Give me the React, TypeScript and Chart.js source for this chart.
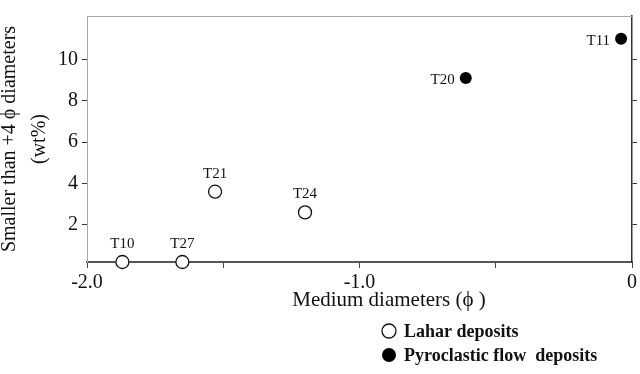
import React, { useEffect, useRef } from "react";
import { Chart, registerables } from "chart.js";

Chart.register(...registerables);

// Sample sites
const laharLabels = ["T10", "T27", "T21", "T24"];
const laharMedian = [-1.87, -1.65, -1.53, -1.2];
const laharFines = [0.2, 0.2, 3.6, 2.6];

const flowLabels = ["T20", "T11"];
const flowMedian = [-0.61, -0.04];
const flowFines = [9.1, 11.0];

const yTickValues = [2, 4, 6, 8, 10];
const xLabelMap: Record<string, string> = { "-2": "-2.0", "-1": "-1.0", "0": "0" };

const legendItems = ["Lahar deposits", "Pyroclastic flow  deposits"];
const xTitle = "Medium diameters (\u03D5 )";
const yTitle = ["Smaller than +4 \u03D5 diameters", "(wt%)"];

const SERIF = "'Liberation Serif', 'Times New Roman', serif";

const annotate = {
  id: "annotate",
  afterDatasetsDraw(chart: any) {
    const ctx = chart.ctx as CanvasRenderingContext2D;
    const area = chart.chartArea;
    ctx.save();
    // top frame line
    ctx.strokeStyle = "#a8a8a8";
    ctx.lineWidth = 1;
    ctx.beginPath();
    ctx.moveTo(area.left, area.top + 0.5);
    ctx.lineTo(area.right, area.top + 0.5);
    ctx.stroke();

    // sample labels
    ctx.fillStyle = "#111";
    ctx.font = `15px ${SERIF}`;
    ctx.textBaseline = "middle";
    const lahar = chart.getDatasetMeta(0).data;
    lahar.forEach((pt: any, i: number) => {
      ctx.textAlign = "center";
      ctx.fillText(laharLabels[i], pt.x, pt.y - 18);
    });
    const flow = chart.getDatasetMeta(1).data;
    flow.forEach((pt: any, i: number) => {
      ctx.textAlign = "right";
      ctx.fillText(flowLabels[i], pt.x - 11, pt.y + 2);
    });

    // x axis title
    ctx.font = `21px ${SERIF}`;
    ctx.textAlign = "center";
    ctx.fillText(xTitle, 389, 300);

    // legend
    const lx = 389;
    const ys = [331, 355];
    ys.forEach((y, i) => {
      ctx.beginPath();
      ctx.arc(lx, y, 7, 0, Math.PI * 2);
      if (i === 0) {
        ctx.fillStyle = "#fff";
        ctx.fill();
        ctx.strokeStyle = "#111";
        ctx.lineWidth = 1.3;
        ctx.stroke();
      } else {
        ctx.fillStyle = "#000";
        ctx.fill();
      }
      ctx.fillStyle = "#111";
      ctx.font = `bold 18px ${SERIF}`;
      ctx.textAlign = "left";
      ctx.fillText(legendItems[i], 404, y + 1);
    });
    ctx.restore();
  },
};

export default function App() {
  const canvasRef = useRef<HTMLCanvasElement | null>(null);

  useEffect(() => {
    document.body.style.margin = "0";
    const canvas = canvasRef.current;
    if (!canvas) return;
    const chart = new Chart(canvas, {
      type: "scatter",
      data: {
        datasets: [
          {
            label: "Lahar deposits",
            data: laharMedian.map((x, i) => ({ x, y: laharFines[i] })),
            pointRadius: 6.5,
            pointBackgroundColor: "#fff",
            pointBorderColor: "#111",
            pointBorderWidth: 1.3,
            clip: false as any,
            yAxisID: "y",
          },
          {
            label: "Pyroclastic flow deposits",
            data: flowMedian.map((x, i) => ({ x, y: flowFines[i] })),
            pointRadius: 6,
            pointBackgroundColor: "#000",
            pointBorderColor: "#000",
            pointBorderWidth: 0,
            clip: false as any,
            yAxisID: "y",
          },
        ],
      },
      options: {
        animation: false,
        responsive: true,
        maintainAspectRatio: false,
        layout: { padding: { top: 7, bottom: 62, left: 0, right: 0 } },
        plugins: { legend: { display: false }, tooltip: { enabled: false } },
        events: [],
        scales: {
          x: {
            type: "linear",
            position: "bottom",
            min: -2,
            max: 0,
            afterFit: (s: any) => {
              s.height = 50;
            },
            ticks: {
              stepSize: 0.5,
              autoSkip: false,
              maxRotation: 0,
              padding: 3,
              color: "#111",
              font: { family: SERIF, size: 20 },
              callback: (v: any) => xLabelMap[String(Math.round(Number(v) * 10) / 10)] ?? "",
            },
            grid: { drawOnChartArea: false, drawTicks: true, tickLength: 6, color: "#444", lineWidth: 1 },
            border: { display: true, color: "#555", width: 2 },
          },
          y: {
            type: "linear",
            position: "left",
            min: 0.2,
            max: 12.1,
            afterBuildTicks: (s: any) => {
              s.ticks = yTickValues.map((value) => ({ value }));
            },
            afterFit: (s: any) => {
              s.width = 87;
            },
            ticks: {
              padding: 4,
              color: "#111",
              font: { family: SERIF, size: 20 },
            },
            grid: { drawOnChartArea: false, drawTicks: true, tickLength: 5, color: "#333", lineWidth: 1 },
            border: { display: true, color: "#a8a8a8", width: 1 },
            title: {
              display: true,
              text: yTitle,
              color: "#111",
              font: { family: SERIF, size: 20, lineHeight: 1.5 },
              padding: { top: -5, bottom: 0 },
            },
          },
          y2: {
            type: "linear",
            position: "right",
            min: 0.2,
            max: 12.1,
            afterBuildTicks: (s: any) => {
              s.ticks = yTickValues.map((value) => ({ value }));
            },
            afterFit: (s: any) => {
              s.width = 5;
            },
            ticks: { display: false },
            grid: { drawOnChartArea: false, drawTicks: true, tickLength: 5, color: "#333", lineWidth: 1 },
            border: { display: true, color: "#333", width: 1.5 },
          },
        },
      },
      plugins: [annotate],
    } as any);
    return () => chart.destroy();
  }, []);

  return (
    <div style={{ position: "relative", width: 640, height: 374, background: "#fff" }}>
      <canvas ref={canvasRef} />
    </div>
  );
}
